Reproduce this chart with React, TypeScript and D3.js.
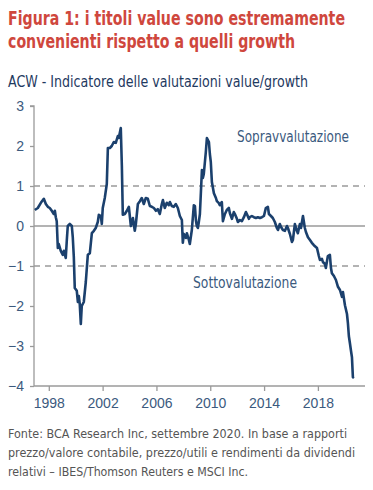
import React, { useEffect, useRef } from 'react'
import * as d3 from 'd3'

const WIDTH = 373
const HEIGHT = 490

// decimal years (x) and indicator values
const years = [
  1996.96, 1997.18, 1997.41, 1997.63, 1997.78, 1997.93, 1998.07, 1998.22, 1998.37, 1998.45,
  1998.52, 1998.59, 1998.67, 1998.74, 1998.89, 1999.04, 1999.12, 1999.26, 1999.34, 1999.41,
  1999.56, 1999.71, 1999.78, 1999.86, 1999.93, 2000.08, 2000.16, 2000.23, 2000.30, 2000.38,
  2000.45, 2000.60, 2000.75, 2000.90, 2001.05, 2001.20, 2001.35, 2001.49, 2001.64, 2001.72,
  2001.87, 2001.94, 2002.01, 2002.16, 2002.31, 2002.39, 2002.54, 2002.68, 2002.83, 2002.98,
  2003.13, 2003.20, 2003.35, 2003.43, 2003.50, 2003.65, 2003.80, 2003.95, 2004.02, 2004.10,
  2004.25, 2004.39, 2004.47, 2004.62, 2004.77, 2004.91, 2005.06, 2005.21, 2005.36, 2005.51,
  2005.66, 2005.81, 2005.96, 2006.10, 2006.25, 2006.40, 2006.48, 2006.62, 2006.77, 2006.92,
  2007.00, 2007.14, 2007.29, 2007.44, 2007.59, 2007.74, 2007.89, 2007.96, 2008.04, 2008.19,
  2008.26, 2008.41, 2008.48, 2008.63, 2008.78, 2008.86, 2008.93, 2009.00, 2009.08, 2009.15,
  2009.23, 2009.38, 2009.45, 2009.52, 2009.67, 2009.75, 2009.90, 2009.97, 2010.04, 2010.12,
  2010.27, 2010.42, 2010.49, 2010.64, 2010.71, 2010.86, 2010.94, 2011.09, 2011.23, 2011.38,
  2011.46, 2011.61, 2011.75, 2011.83, 2011.98, 2012.05, 2012.20, 2012.35, 2012.50, 2012.65,
  2012.72, 2012.87, 2012.94, 2013.09, 2013.24, 2013.39, 2013.54, 2013.69, 2013.84, 2013.99,
  2014.13, 2014.28, 2014.36, 2014.51, 2014.65, 2014.80, 2014.95, 2015.03, 2015.17, 2015.25,
  2015.40, 2015.55, 2015.70, 2015.77, 2015.92, 2016.07, 2016.14, 2016.29, 2016.44, 2016.51,
  2016.66, 2016.74, 2016.89, 2017.03, 2017.11, 2017.26, 2017.41, 2017.55, 2017.70, 2017.93,
  2018.07, 2018.15, 2018.30, 2018.37, 2018.52, 2018.59, 2018.74, 2018.89, 2018.97, 2019.04,
  2019.19, 2019.34, 2019.49, 2019.64, 2019.79, 2019.86, 2020.01, 2020.16, 2020.23, 2020.30,
  2020.38, 2020.45, 2020.53, 2020.60, 2020.68,
]

const values = [
  0.40, 0.45, 0.58, 0.68, 0.55, 0.48, 0.45, 0.38, 0.30, 0.38,
  0.22, 0.12, -0.55, -0.45, -0.62, -0.72, -0.62, -0.80, -0.35, 0.00,
  0.05, 0.00, -0.27, -0.78, -1.55, -1.62, -1.90, -1.75, -1.95, -2.45,
  -2.00, -1.90, -1.40, -0.72, -0.68, -0.18, -0.12, -0.05, 0.10, 0.28,
  0.25, 0.05, 0.45, 0.70, 1.05, 1.95, 1.95, 2.00, 2.10, 2.08,
  2.25, 2.20, 2.45, 1.50, 0.28, 0.30, 0.38, 0.48, 0.25, 0.00,
  0.20, -0.12, 0.05, 0.55, 0.62, 0.70, 0.55, 0.70, 0.68, 0.50,
  0.48, 0.45, 0.38, 0.42, 0.30, 0.55, 0.65, 0.45, 0.58, 0.52,
  0.60, 0.50, 0.48, 0.55, 0.45, 0.25, 0.15, -0.42, -0.20, -0.30,
  -0.18, -0.35, -0.45, -0.10, 0.52, 0.50, 0.15, 0.00, -0.05, 0.10,
  0.30, 1.40, 1.20, 1.30, 1.85, 2.20, 2.10, 1.80, 1.60, 1.10,
  0.82, 0.70, 0.62, 0.57, 0.52, 0.60, 0.12, 0.30, 0.40, 0.45,
  0.32, 0.18, 0.35, 0.30, 0.18, 0.10, 0.15, 0.12, 0.22, 0.35,
  0.30, 0.18, 0.22, 0.25, 0.22, 0.20, 0.22, 0.20, 0.22, 0.25,
  0.45, 0.48, 0.30, 0.25, 0.20, 0.10, -0.05, -0.10, 0.05, -0.02,
  -0.10, -0.12, 0.00, -0.05, -0.20, -0.40, -0.35, 0.05, -0.12, -0.18,
  0.05, -0.05, 0.25, -0.05, -0.15, -0.28, -0.35, -0.42, -0.48, -0.55,
  -0.75, -0.85, -0.82, -0.90, -0.95, -1.05, -0.75, -0.72, -1.05, -1.18,
  -1.25, -1.35, -1.52, -1.60, -1.77, -1.65, -1.98, -2.20, -2.43, -2.75,
  -2.93, -3.10, -3.28, -3.78, -3.80,
]

const yTicks = [3, 2, 1, 0, -1, -2, -3, -4]
const xTicks = [1998, 2002, 2006, 2010, 2014, 2018]
const bands = [1, -1]

const titleLines = ['Figura 1: i titoli value sono estremamente', 'convenienti rispetto a quelli growth']
const subtitle = 'ACW - Indicatore delle valutazioni value/growth'
const footerLines = [
  'Fonte: BCA Research Inc, settembre 2020. In base a rapporti',
  'prezzo/valore contabile, prezzo/utili e rendimenti da dividendi',
  'relativi \u2013 IBES/Thomson Reuters e MSCI Inc.',
]

const NARROW = "'Liberation Sans Narrow', 'DejaVu Sans Condensed', 'Roboto', sans-serif"
const SANS = "'Liberation Sans', 'Roboto', sans-serif"
const LABEL = '#3b5a7e'

export default function App() {
  const ref = useRef<SVGSVGElement>(null)

  useEffect(() => {
    const svg = d3.select(ref.current)
    svg.selectAll('*').remove()

    const x = d3.scaleLinear().domain([1996.9, 2021.5]).range([34, 365])
    const y = d3.scaleLinear().domain([-4, 3]).range([386, 106])

    // titles (tall, narrow lettering)
    const titleWidths = [337, 287]
    svg.selectAll('text.title')
      .data(titleLines)
      .enter()
      .append('text')
      .attr('class', 'title')
      .attr('transform', (d, i) => `translate(8,${25 + i * 23}) scale(1,1.15)`)
      .attr('textLength', (d, i) => titleWidths[i])
      .attr('lengthAdjust', 'spacingAndGlyphs')
      .attr('font-family', NARROW)
      .attr('font-weight', 'bold')
      .attr('font-size', 17)
      .attr('fill', '#cf473d')
      .text((d) => d)

    svg.append('text')
      .attr('x', 8)
      .attr('y', 87)
      .attr('textLength', 300)
      .attr('lengthAdjust', 'spacingAndGlyphs')
      .attr('font-family', NARROW)
      .attr('font-size', 15)
      .attr('fill', '#1f3a5f')
      .text(subtitle)

    // reference lines
    svg.selectAll('line.band')
      .data(bands)
      .enter()
      .append('line')
      .attr('x1', x(1996.9))
      .attr('x2', x(2021.5))
      .attr('y1', (d) => y(d))
      .attr('y2', (d) => y(d))
      .attr('stroke', '#9a9a9a')
      .attr('stroke-width', 1.3)
      .attr('stroke-dasharray', '6,5')

    svg.append('line')
      .attr('x1', x(1996.9))
      .attr('x2', x(2021.5))
      .attr('y1', y(0))
      .attr('y2', y(0))
      .attr('stroke', '#9a9a9a')
      .attr('stroke-width', 1.6)

    // axes
    const yAxis = svg.append('g')
      .attr('transform', `translate(${x(1996.9)},0)`)
      .call(d3.axisLeft(y).tickValues(yTicks).tickSize(4).tickPadding(6).tickFormat(d3.format('d')))
    const xAxis = svg.append('g')
      .attr('transform', `translate(0,${y(-4)})`)
      .call(d3.axisBottom(x).tickValues(xTicks).tickSize(5).tickPadding(7).tickFormat(d3.format('d')))

    ;[yAxis, xAxis].forEach((ax) => {
      ax.select('.domain').attr('stroke', '#9a9a9a').attr('stroke-width', 1.3)
      ax.selectAll('.tick line').attr('stroke', '#9a9a9a').attr('stroke-width', 1.3)
      ax.selectAll('.tick text')
        .attr('fill', LABEL)
        .attr('font-family', SANS)
        .attr('font-size', 14)
    })
    yAxis.select('.domain').attr('d', `M-4,${y(3)}H0V${y(-4)}`)
    xAxis.select('.domain').attr('d', `M${x(1996.9)},0H${x(2021.5)}`)

    // annotations
    svg.append('text')
      .attr('x', 237)
      .attr('y', 142)
      .attr('textLength', 112)
      .attr('lengthAdjust', 'spacingAndGlyphs')
      .attr('font-family', NARROW)
      .attr('font-size', 15)
      .attr('fill', LABEL)
      .text('Sopravvalutazione')
    svg.append('text')
      .attr('x', 193)
      .attr('y', 288)
      .attr('textLength', 104)
      .attr('lengthAdjust', 'spacingAndGlyphs')
      .attr('font-family', NARROW)
      .attr('font-size', 15)
      .attr('fill', LABEL)
      .text('Sottovalutazione')

    // series
    const data = years.map((yr, i) => ({ yr, v: values[i] }))
    const line = d3.line<{ yr: number; v: number }>()
      .x((d) => x(d.yr))
      .y((d) => y(d.v))
    svg.append('path')
      .datum(data)
      .attr('d', line)
      .attr('fill', 'none')
      .attr('stroke', '#1b406d')
      .attr('stroke-width', 2.6)
      .attr('stroke-linejoin', 'round')

    // footer
    const footerWidths = [339, 347, 240]
    svg.selectAll('text.footer')
      .data(footerLines)
      .enter()
      .append('text')
      .attr('class', 'footer')
      .attr('x', 8)
      .attr('y', (d, i) => 438 + i * 19)
      .attr('textLength', (d, i) => footerWidths[i])
      .attr('lengthAdjust', 'spacingAndGlyphs')
      .attr('font-family', NARROW)
      .attr('font-size', 13)
      .attr('fill', '#555')
      .text((d) => d)
  }, [])

  return (
    <svg
      ref={ref}
      width={WIDTH}
      height={HEIGHT}
      style={{ position: 'absolute', left: 0, top: 0, background: '#fff' }}
    />
  )
}
